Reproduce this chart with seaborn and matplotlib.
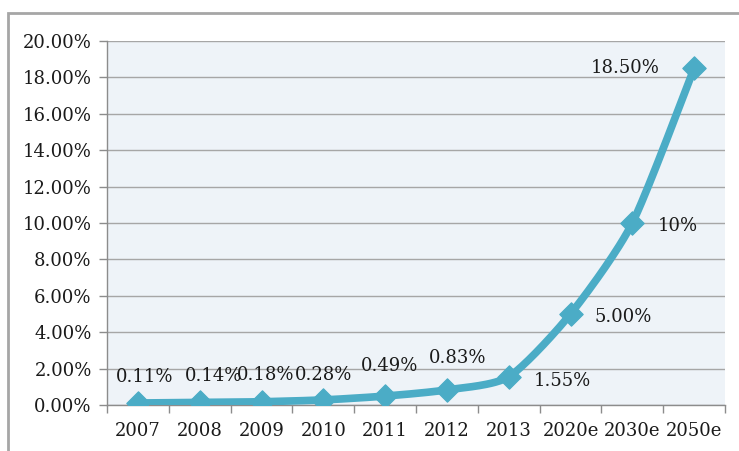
import numpy as np
import pandas as pd
import seaborn as sns
import matplotlib.pyplot as plt
from matplotlib.patches import Rectangle
from matplotlib.ticker import FuncFormatter

years = ["2007", "2008", "2009", "2010", "2011", "2012", "2013", "2020e", "2030e", "2050e"]
share = [0.11, 0.14, 0.18, 0.28, 0.49, 0.83, 1.55, 5.00, 10.0, 18.50]
labels = ["0.11%", "0.14%", "0.18%", "0.28%", "0.49%", "0.83%", "1.55%", "5.00%", "10%", "18.50%"]
# label offsets in points (dx, dy) and alignment
label_pos = [(5, 19, "center"), (10, 19, "center"), (3, 19, "center"), (0, 18, "center"),
             (3, 22, "center"), (8, 23, "center"), (18, -3, "left"), (17, -2, "left"),
             (18, -2, "left"), (-25, 0, "right")]

df = pd.DataFrame({"year": years, "share": share})
df["x"] = np.arange(len(years))

sns.set_style("white")
plt.rcParams["font.family"] = ["DejaVu Serif"]

fig = plt.figure(figsize=(7.39, 4.51), dpi=100)
ax = fig.add_axes([107 / 739, 1 - 405 / 451, (725 - 107) / 739, (405 - 41) / 451])

ax.set_facecolor("#eef3f8")
line_color = "#4bacc6"

# lightly smoothed curve through the points (Catmull-Rom with reduced tangents)
xs, ys = df["x"].to_numpy(float), df["share"].to_numpy(float)
px = np.concatenate([[xs[0]], xs, [xs[-1]]])
py = np.concatenate([[ys[0]], ys, [ys[-1]]])
cx, cy = [], []
t = np.linspace(0, 1, 30)
tension = 0.35
for i in range(1, len(px) - 2):
    p0, p1, p2, p3 = (np.array([px[j], py[j]]) for j in (i - 1, i, i + 1, i + 2))
    m1 = tension * (p2 - p0)
    m2 = tension * (p3 - p1)
    h00 = 2 * t ** 3 - 3 * t ** 2 + 1
    h10 = t ** 3 - 2 * t ** 2 + t
    h01 = -2 * t ** 3 + 3 * t ** 2
    h11 = t ** 3 - t ** 2
    seg = (p1[:, None] * h00 + m1[:, None] * h10 + p2[:, None] * h01 + m2[:, None] * h11)
    cx.extend(seg[0]); cy.extend(seg[1])
ax.plot(cx, cy, color=line_color, lw=5.5, solid_capstyle="round", zorder=3)

sns.scatterplot(data=df, x="x", y="share", marker="D", s=140, color=line_color,
                edgecolor=line_color, ax=ax, zorder=4, legend=False)

for xi, yi, lab, (dx, dy, ha) in zip(xs, ys, labels, label_pos):
    ax.annotate(lab, (xi, yi), xytext=(dx, dy), textcoords="offset points",
                ha=ha, va="center", fontsize=13, color="#1a1a1a", zorder=5)

ax.set_xlim(-0.5, len(years) - 0.5)
ax.set_ylim(0, 20)
ax.set_yticks(np.arange(0, 20.01, 2))
ax.yaxis.set_major_formatter(FuncFormatter(lambda v, p: f"{v:.2f}%"))
ax.set_xticks(xs)
ax.set_xticklabels(years)
ax.set_xticks(np.arange(-0.5, len(years), 1), minor=True)
ax.tick_params(axis="x", which="major", length=0, pad=12, labelsize=13, labelcolor="#1a1a1a")
ax.tick_params(axis="x", which="minor", length=6, width=1, color="#8c8c8c", direction="out", bottom=True)
ax.tick_params(axis="y", length=6, width=1, color="#8c8c8c", direction="out", left=True, pad=5,
               labelsize=13, labelcolor="#1a1a1a")
ax.grid(axis="y", color="#a6a6a6", lw=1)
ax.set_axisbelow(True)
ax.set_xlabel("")
ax.set_ylabel("")
for side in ["top", "right"]:
    ax.spines[side].set_visible(False)
for side in ["left", "bottom"]:
    ax.spines[side].set_color("#8c8c8c")
    ax.spines[side].set_linewidth(1)

# outer chart frame
fig.add_artist(Rectangle((8 / 739, -0.1), 1.2, 1 - 13 / 451 + 0.1, transform=fig.transFigure,
                         fill=False, edgecolor="#a6a6a6", lw=2))

fig.savefig("out.png", dpi=100)
